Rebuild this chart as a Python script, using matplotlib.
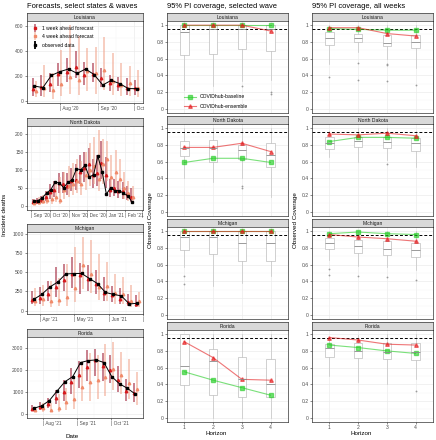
import matplotlib.pyplot as plt
import matplotlib.transforms as mtransforms
from matplotlib.lines import Line2D
import pandas as pd

plt.rcParams["font.family"] = ["Liberation Sans", "DejaVu Sans"]

W, H = 436, 440

# ---------------- left column: forecasts vs observed ----------------
la_start = "2020-07-11"
la_obs = [120, 107, 205, 235, 256, 221, 256, 211, 128, 165, 139, 99, 99]
la_w1 = [95, 110, 135, 215, 230, 270, 210, 215, 180, 140, 130, 100, 100]
la_w1_lo = [40, 40, 70, 120, 150, 180, 130, 150, 110, 80, 80, 50, 50]
la_w1_hi = [180, 210, 220, 300, 340, 400, 310, 300, 260, 210, 190, 180, 170]
la_w4 = [80, 100, 90, 135, 190, 165, 240, 220, 245, 160, 130, 140, 100]
la_w4_lo = [30, 30, 20, 40, 60, 50, 80, 60, 90, 50, 40, 40, 30]
la_w4_hi = [160, 290, 220, 410, 610, 520, 420, 430, 510, 380, 300, 280, 250]

nd_start = "2020-09-05"
nd_obs = [12, 14, 22, 35, 45, 65, 64, 50, 65, 72, 103, 100, 112, 80, 86, 138,
          95, 32, 50, 42, 42, 35, 28, 10]
nd_w1 = [10, 12, 15, 25, 38, 45, 62, 60, 55, 68, 72, 95, 105, 115, 85, 90,
         120, 85, 45, 48, 42, 40, 33, 25]
nd_w1_lo = [4, 5, 7, 12, 20, 25, 35, 35, 30, 40, 45, 60, 65, 75, 50, 55,
            75, 50, 25, 28, 22, 20, 15, 10]
nd_w1_hi = [20, 22, 28, 40, 60, 70, 90, 95, 90, 105, 115, 140, 150, 160, 130, 140,
            180, 135, 75, 75, 68, 65, 55, 50]
nd_w4 = [8, 10, 12, 15, 18, 25, 15, 45, 55, 60, 70, 60, 85, 100, 110, 75,
         115, 130, 80, 95, 75, 50, 35, 25]
nd_w4_lo = [2, 3, 4, 5, 6, 10, 5, 20, 25, 30, 35, 30, 45, 55, 60, 40,
            60, 70, 40, 50, 35, 20, 12, 8]
nd_w4_hi = [20, 25, 30, 40, 45, 60, 80, 95, 110, 120, 130, 125, 150, 175, 190, 210,
            185, 180, 140, 155, 130, 95, 70, 55]

mi_start = "2021-03-27"
mi_obs = [146, 210, 305, 370, 475, 480, 482, 415, 350, 235, 210, 190, 85, 95]
mi_w1 = [140, 160, 215, 305, 400, 470, 460, 410, 350, 230, 200, 150, 110, 90]
mi_w1_lo = [80, 90, 120, 180, 250, 290, 220, 250, 220, 130, 110, 80, 60, 40]
mi_w1_hi = [250, 300, 380, 560, 610, 700, 620, 590, 520, 440, 320, 290, 210, 200]
mi_w4 = [130, 150, 130, 140, 180, 290, 590, 480, 300, 320, 230, 210, 120, 130]
mi_w4_lo = [60, 60, 50, 60, 60, 110, 280, 230, 140, 130, 90, 80, 40, 40]
mi_w4_hi = [290, 330, 380, 420, 610, 820, 950, 920, 740, 630, 480, 440, 330, 240]

fl_start = "2021-07-24"
fl_obs = [270, 380, 620, 1060, 1480, 1710, 2350, 2440, 2470, 2350, 1710, 1380, 1180, 920]
fl_w1 = [250, 350, 480, 750, 1000, 1450, 1800, 2150, 2450, 2200, 2000, 1550, 1050, 950]
fl_w1_lo = [150, 200, 300, 450, 600, 900, 1200, 1500, 1750, 1500, 1400, 1000, 600, 550]
fl_w1_hi = [400, 550, 750, 1100, 1550, 2100, 2400, 2900, 2950, 2800, 2700, 2200, 1600, 1400]
fl_w4 = [180, 300, 200, 300, 550, 700, 1250, 1450, 1550, 1700, 2050, 1800, 1400, 1150]
fl_w4_lo = [80, 120, 80, 120, 200, 250, 600, 600, 700, 850, 1100, 900, 700, 400]
fl_w4_hi = [350, 500, 500, 900, 1200, 1750, 2300, 2800, 2700, 3200, 3300, 2850, 2500, 1900]

# ---------------- coverage boxplots: [whislo, q1, median, q3, whishi] ----------------
horizons = [1, 2, 3, 4]

la_wave_box = [[0.22, 0.64, 0.92, 1.0, 1.0], [0.27, 0.66, 0.96, 1.0, 1.0],
               [0.33, 0.72, 0.96, 1.0, 1.0], [0.34, 0.69, 0.96, 1.0, 1.0]]
la_wave_out = [[], [], [0.27], [0.20, 0.18]]
la_wave_ens = [1.0, 1.0, 1.0, 0.93]
la_wave_base = [1.0, 1.0, 1.0, 1.0]

nd_wave_box = [[0.40, 0.67, 0.76, 0.85, 1.0], [0.36, 0.60, 0.76, 0.86, 1.0],
               [0.40, 0.63, 0.74, 0.80, 1.0], [0.18, 0.53, 0.68, 0.82, 1.0]]
nd_wave_out = [[], [], [0.31, 0.28], []]
nd_wave_ens = [0.77, 0.77, 0.82, 0.72]
nd_wave_base = [0.59, 0.64, 0.64, 0.59]

mi_wave_box = [[0.57, 0.78, 0.93, 1.0, 1.0], [0.35, 0.73, 0.93, 1.0, 1.0],
               [0.38, 0.64, 0.86, 1.0, 1.0], [0.46, 0.64, 0.86, 1.0, 1.0]]
mi_wave_out = [[0.46, 0.37], [], [], []]
mi_wave_ens = [1.0, 1.0, 1.0, 1.0]
mi_wave_base = [1.0, 1.0, 1.0, 1.0]

fl_wave_box = [[0.0, 0.39, 0.62, 1.0, 1.0], [0.0, 0.27, 0.68, 0.82, 1.0],
               [0.0, 0.25, 0.47, 0.73, 1.0], [0.0, 0.25, 0.41, 0.70, 1.0]]
fl_wave_out = [[], [], [], []]
fl_wave_ens = [0.91, 0.72, 0.46, 0.45]
fl_wave_base = [0.55, 0.45, 0.36, 0.27]

la_all_box = [[0.53, 0.76, 0.85, 0.92, 1.0], [0.68, 0.80, 0.85, 0.90, 1.0],
              [0.60, 0.75, 0.79, 0.88, 1.0], [0.49, 0.73, 0.80, 0.88, 1.0]]
la_all_out = [[0.38], [0.55, 0.34], [0.53, 0.52, 0.33], [0.28]]
la_all_ens = [0.97, 0.97, 0.90, 0.87]
la_all_base = [0.96, 0.95, 0.94, 0.94]

nd_all_box = [[0.65, 0.75, 0.82, 0.89, 0.97], [0.60, 0.77, 0.85, 0.90, 1.0],
              [0.62, 0.76, 0.84, 0.90, 1.0], [0.54, 0.73, 0.82, 0.88, 0.97]]
nd_all_out = [[], [], [0.57], []]
nd_all_ens = [0.93, 0.92, 0.94, 0.91]
nd_all_base = [0.84, 0.89, 0.89, 0.88]

mi_all_box = [[0.66, 0.79, 0.86, 0.92, 1.0], [0.58, 0.74, 0.82, 0.90, 1.0],
              [0.57, 0.72, 0.79, 0.88, 1.0], [0.53, 0.69, 0.78, 0.86, 1.0]]
mi_all_out = [[0.55, 0.48], [0.46], [0.45], [0.42]]
mi_all_ens = [0.96, 0.93, 0.91, 0.88]
mi_all_base = [0.97, 0.99, 0.97, 0.96]

fl_all_box = [[0.50, 0.73, 0.83, 0.88, 0.97], [0.43, 0.71, 0.80, 0.90, 0.99],
              [0.40, 0.70, 0.79, 0.90, 1.0], [0.46, 0.69, 0.79, 0.89, 1.0]]
fl_all_out = [[], [], [], [0.32]]
fl_all_ens = [0.96, 0.93, 0.88, 0.87]
fl_all_base = [0.87, 0.84, 0.80, 0.77]

W1_BAR, W1_PT = "#9E1B32", "#D7191C"
W4_BAR, W4_PT = "#F2A58E", "#F08A6A"
GREEN, RED = "#22CC22", "#E41A1C"


def add_ax(fig, left, top, right, bottom):
    return fig.add_axes([left / W, 1 - bottom / H, (right - left) / W, (bottom - top) / H])


def strip(fig, left, top, right, bottom, label):
    ax = add_ax(fig, left, top, right, bottom)
    ax.set_facecolor("#D9D9D9")
    ax.set_xticks([])
    ax.set_yticks([])
    for s in ax.spines.values():
        s.set_color("#333333")
        s.set_linewidth(0.5)
    ax.text(0.5, 0.45, label, ha="center", va="center", fontsize=3.6,
            color="#1A1A1A", transform=ax.transAxes)


def style(ax):
    for s in ax.spines.values():
        s.set_color("#333333")
        s.set_linewidth(0.5)
    ax.tick_params(labelsize=3.6, length=1.5, width=0.4, pad=1,
                   colors="#333333", labelcolor="#4D4D4D")
    ax.tick_params(which="minor", length=0)
    ax.grid(True, which="major", color="#EBEBEB", lw=0.5)
    ax.grid(True, which="minor", color="#F3F3F3", lw=0.3)
    ax.set_axisbelow(True)


def forecast_panel(fig, rows, name, start, obs, w1, w1_lo, w1_hi, w4, w4_lo, w4_hi,
                   xlim, yticks, ylim, legend=False):
    top_s, top_p, bot = rows
    strip(fig, 27, top_s, 143, top_p, name)
    ax = add_ax(fig, 27, top_p, 143, bot)
    style(ax)
    dates = pd.date_range(start, periods=len(obs), freq="7D")
    off = pd.Timedelta(hours=30)
    x1 = (dates - off).to_numpy()
    x4 = (dates + off).to_numpy()
    ax.vlines(x1, w1_lo, w1_hi, color=W1_BAR, lw=1.3, alpha=0.6)
    ax.vlines(x4, w4_lo, w4_hi, color=W4_BAR, lw=1.3, alpha=0.6)
    ax.plot(x1, w1, ls="", marker="^", ms=1.8, color=W1_PT)
    ax.plot(x4, w4, ls="", marker="^", ms=1.8, color=W4_PT)
    ax.plot(dates.to_numpy(), obs, color="black", lw=0.7, marker="s", ms=1.6)

    x0, x1_ = pd.Timestamp(xlim[0]), pd.Timestamp(xlim[1])
    months = pd.date_range(x0, x1_, freq="MS")
    mids = months + pd.Timedelta(days=15)
    ax.set_xticks(months.to_numpy())
    ax.set_xticklabels(["| " + m.strftime("%b '%y") for m in months], ha="left",
                       fontsize=3.4)
    ax.set_xticks(mids.to_numpy(), minor=True)
    ax.set_xlim(x0, x1_)
    ax.set_yticks(yticks)
    step = yticks[1] - yticks[0]
    ax.set_yticks([v + step / 2 for v in yticks], minor=True)
    ax.set_ylim(ylim)
    clip = mtransforms.TransformedBbox(
        mtransforms.Bbox.from_extents(0, 0, 145 / W, 1), fig.transFigure)
    for lab in ax.get_xticklabels():
        lab.set_clip_on(True)
        lab.set_clip_box(clip)
    if legend:
        hs = []
        for bar, pt, a in [(W1_BAR, W1_PT, 0.6), (W4_BAR, W4_PT, 0.6), ("black", "black", 1)]:
            hs.append((Line2D([], [], ls="", marker="|", ms=6, mew=1.3, color=bar, alpha=a),
                       Line2D([], [], ls="", marker="s", ms=1.6, color=pt)))
        ax.legend(hs, ["1 week ahead forecast", "4 week ahead forecast", "observed data"],
                  loc="upper left", bbox_to_anchor=(0.02, 0.98), frameon=False,
                  fontsize=3.6, handlelength=1.2, labelspacing=0.7, borderaxespad=0.2)
    return ax


def coverage_panel(fig, left, i, name, box, out, ens, base, legend=False):
    top_s = 13 + i * 103
    strip(fig, left, top_s, left + 121, top_s + 8, name)
    ax = add_ax(fig, left, top_s + 8, left + 121, top_s + 100)
    style(ax)
    stats = [dict(whislo=b[0], q1=b[1], med=b[2], q3=b[3], whishi=b[4], fliers=f)
             for b, f in zip(box, out)]
    ax.bxp(stats, positions=horizons, widths=0.3, patch_artist=True, showcaps=False,
           boxprops=dict(facecolor="white", edgecolor="#BDBDBD", lw=0.5),
           medianprops=dict(color="#8A8A8A", lw=0.6),
           whiskerprops=dict(color="#C4C4C4", lw=0.5),
           flierprops=dict(marker="o", ms=1.3, mfc="#9A9A9A", mec="none"))
    ax.axhline(0.95, color="black", lw=0.7, ls=(0, (3, 2)))
    ax.plot(horizons, base, color=GREEN, lw=0.8, alpha=0.6, marker="s", ms=2.4)
    ax.plot(horizons, ens, color=RED, lw=0.8, alpha=0.6, marker="^", ms=2.6)
    ax.set_xlim(0.4, 4.6)
    ax.set_ylim(-0.05, 1.05)
    ax.set_yticks([0, 0.2, 0.4, 0.6, 0.8, 1.0])
    ax.set_yticklabels(["0", "0.2", "0.4", "0.6", "0.8", "1"])
    ax.set_yticks([0.1, 0.3, 0.5, 0.7, 0.9], minor=True)
    ax.set_xticks(horizons)
    if i == 3:
        ax.set_xticklabels([str(h) for h in horizons])
    else:
        ax.tick_params(axis="x", length=0, labelbottom=False)
    if legend:
        hs = [Line2D([], [], color=GREEN, lw=0.8, alpha=0.6, marker="s", ms=2.4),
              Line2D([], [], color=RED, lw=0.8, alpha=0.6, marker="^", ms=2.6)]
        ax.legend(hs, ["COVIDhub-baseline", "COVIDhub-ensemble"], loc="lower left",
                  bbox_to_anchor=(0.1, 0.0), frameon=False, fontsize=3.6,
                  handlelength=2.4, labelspacing=0.8)
    return ax


fig = plt.figure(figsize=(W / 100, H / 100), dpi=100)

forecast_panel(fig, (13, 21, 103), "Louisiana", la_start, la_obs, la_w1, la_w1_lo, la_w1_hi,
               la_w4, la_w4_lo, la_w4_hi, ("2020-07-05", "2020-10-08"),
               [0, 200, 400, 600], (-16, 640), legend=True)
forecast_panel(fig, (118, 126, 210), "North Dakota", nd_start, nd_obs, nd_w1, nd_w1_lo, nd_w1_hi,
               nd_w4, nd_w4_lo, nd_w4_hi, ("2020-08-25", "2021-03-03"),
               [0, 50, 100, 150, 200], (-12, 222))
forecast_panel(fig, (224, 232, 314), "Michigan", mi_start, mi_obs, mi_w1, mi_w1_lo, mi_w1_hi,
               mi_w4, mi_w4_lo, mi_w4_hi, ("2021-03-21", "2021-07-01"),
               [0, 250, 500, 750, 1000], (-45, 1020))
forecast_panel(fig, (329, 337, 418), "Florida", fl_start, fl_obs, fl_w1, fl_w1_lo, fl_w1_hi,
               fl_w4, fl_w4_lo, fl_w4_hi, ("2021-07-18", "2021-10-30"),
               [0, 1000, 2000, 3000], (-170, 3510))

coverage_panel(fig, 167, 0, "Louisiana", la_wave_box, la_wave_out, la_wave_ens, la_wave_base, legend=True)
coverage_panel(fig, 167, 1, "North Dakota", nd_wave_box, nd_wave_out, nd_wave_ens, nd_wave_base)
coverage_panel(fig, 167, 2, "Michigan", mi_wave_box, mi_wave_out, mi_wave_ens, mi_wave_base)
coverage_panel(fig, 167, 3, "Florida", fl_wave_box, fl_wave_out, fl_wave_ens, fl_wave_base)

coverage_panel(fig, 312, 0, "Louisiana", la_all_box, la_all_out, la_all_ens, la_all_base)
coverage_panel(fig, 312, 1, "North Dakota", nd_all_box, nd_all_out, nd_all_ens, nd_all_base)
coverage_panel(fig, 312, 2, "Michigan", mi_all_box, mi_all_out, mi_all_ens, mi_all_base)
coverage_panel(fig, 312, 3, "Florida", fl_all_box, fl_all_out, fl_all_ens, fl_all_base)

fig.text(27 / W, 1 - 6 / H, "Forecasts, select states & waves", fontsize=5.4, va="center")
fig.text(167 / W, 1 - 6 / H, "95% PI coverage, selected wave", fontsize=5.4, va="center")
fig.text(312 / W, 1 - 6 / H, "95% PI coverage, all weeks", fontsize=5.4, va="center")

fig.text(5 / W, 1 - 215 / H, "Incident deaths", fontsize=4.5, rotation=90, ha="center", va="center")
fig.text(150 / W, 1 - 220 / H, "Observed Coverage", fontsize=4.5, rotation=90, ha="center", va="center")
fig.text(295 / W, 1 - 220 / H, "Observed Coverage", fontsize=4.5, rotation=90, ha="center", va="center")
fig.text(72 / W, 1 - 436 / H, "Date", fontsize=4.5, ha="center", va="center")
fig.text(216 / W, 1 - 433 / H, "Horizon", fontsize=4.5, ha="center", va="center")
fig.text(361 / W, 1 - 433 / H, "Horizon", fontsize=4.5, ha="center", va="center")

fig.savefig("out.png", dpi=100)
